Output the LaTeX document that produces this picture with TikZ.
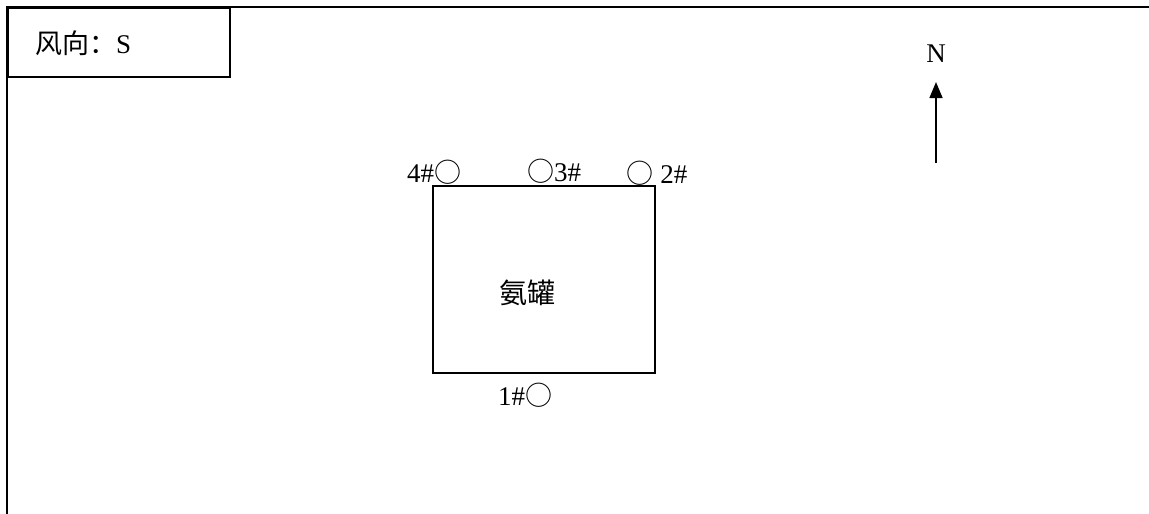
\documentclass[tikz,border=0pt]{standalone}
\usepackage{fontspec}
\setmainfont{Liberation Serif}
\newfontfamily\cjk{Noto Sans CJK SC}
\usetikzlibrary{arrows.meta}
\tikzset{
  frame/.style={
    line width=1.6pt,
    draw=black
  },
  legend/.style={
    rectangle,
    minimum width=222pt,
    minimum height=69pt,
    line width=1.6pt,
    draw=black
  },
  tank/.style={
    rectangle,
    minimum width=222pt,
    minimum height=187pt,
    line width=1.6pt,
    draw=black
  },
  tanklabel/.style={
    inner sep=0pt,
    font=\fontsize{28}{32}\selectfont\cjk
  },
  well/.style={
    inner sep=0pt,
    font=\fontsize{27}{31}\selectfont
  },
  northarrow/.style={line width=1.6pt,-{Triangle[length=16pt,width=13pt]}}
}

\begin{document}
\begin{tikzpicture}[x=1pt,y=-1pt]
      \useasboundingbox (0,0) rectangle (1149,514);
      \fill[white] (0,0) rectangle (1149,514);
      % frame
      \coordinate (fa) at (7,514);
      \coordinate (fb) at (7,7);
      \coordinate (fc) at (1149,7);
      \draw[frame] (fa) -- (fb) -- (fc);
      \node (box) [legend, anchor=north west] at (7,7) {};
      \node (wind) [well, anchor=west] at (35,43) {{\cjk 风向：}S};
      % tank
      \node (tk) [tank] at (544,279.5) {};
      \node (tkname) [tanklabel] at (527,293) {氨罐};
      \node (w4) [well] at (434,172) {4\#{\cjk ○}};
      \node (w3) [well] at (554,171) {{\cjk ○}3\#};
      \node (w2) [well] at (657,173) {{\cjk ○} 2\#};
      \node (w1) [well] at (525,395) {1\#{\cjk ○}};
      % north
      \node (north) [well] at (936,54) {N};
      \coordinate (tail) at (936,163);
      \draw[northarrow] (tail) -- ([yshift=-19pt]north.south);
    \end{tikzpicture}
\end{document}
